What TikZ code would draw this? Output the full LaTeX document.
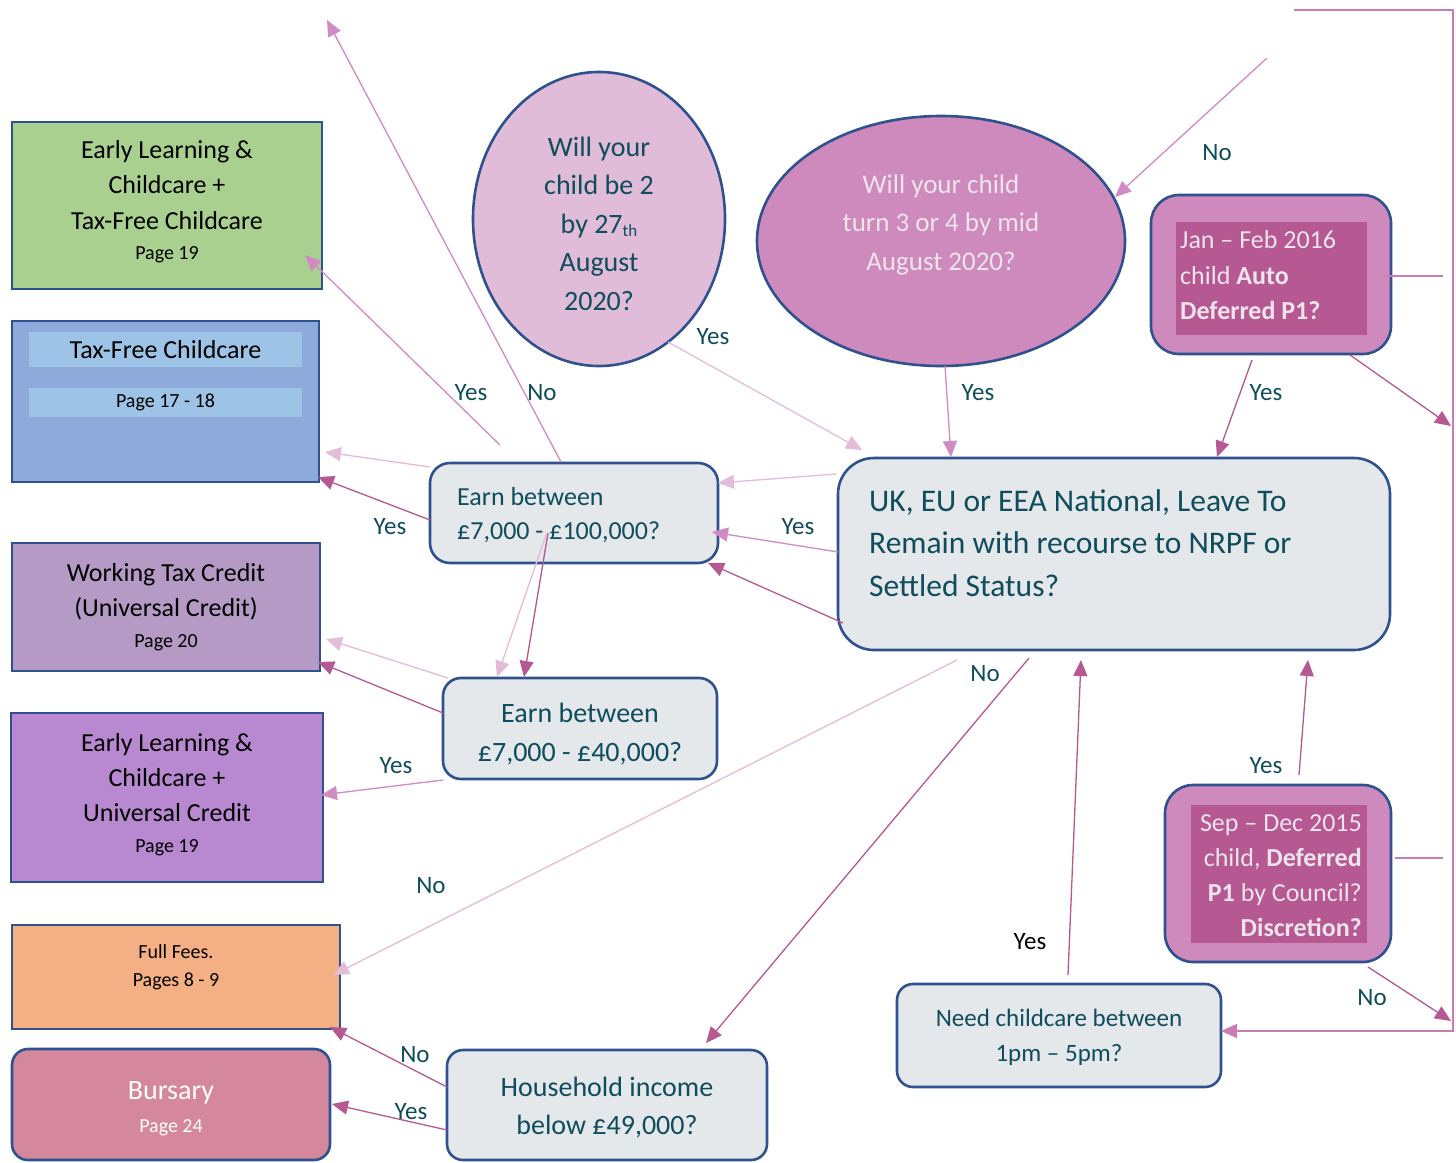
\documentclass[tikz,border=0pt]{standalone}
\usepackage{fontspec}
\setmainfont{Carlito}
\usetikzlibrary{arrows.meta,shapes.geometric}
\definecolor{bdr}{HTML}{2F528F}
\definecolor{tealtx}{HTML}{0F4C5C}
\definecolor{qfill}{HTML}{E4E8EA}
\definecolor{grn}{HTML}{A9D08E}
\definecolor{blu}{HTML}{8EAADB}
\definecolor{strip}{HTML}{9DC3E6}
\definecolor{wtcC}{HTML}{B49AC4}
\definecolor{purp}{HTML}{B889D1}
\definecolor{orng}{HTML}{F4B084}
\definecolor{burs}{HTML}{D5879D}
\definecolor{ellA}{HTML}{E0BCD8}
\definecolor{ellB}{HTML}{CE89BD}
\definecolor{magin}{HTML}{B65891}
\definecolor{paletx}{HTML}{EEE4EC}
\definecolor{lnL}{HTML}{E2BCD8}
\definecolor{lnM}{HTML}{D08BC3}
\definecolor{lnD}{HTML}{B65891}
\definecolor{lnF}{HTML}{C97DB6}
\newcommand\myfs[2]{\fontsize{#1}{#2}\selectfont}
\begin{document}
\begin{tikzpicture}[x=1pt,y=-1pt,
  box/.style={draw=bdr,line width=2.6pt,inner sep=0pt,align=center},
  qbox/.style={box,fill=qfill,text=tealtx,rounded corners=#1},
  qbox/.default=16pt,
  txt/.style={inner sep=0pt},
  conn/.style={line width=1.3pt,-{Triangle[length=16pt,width=14pt]}},
  lbl/.style={text=tealtx,font=\myfs{25}{30},inner sep=0pt}]
\useasboundingbox[fill=white] (0,0) rectangle (1456,1162);

% ---------- outcome boxes (left) ----------
\node[box,fill=grn,minimum width=310pt,minimum height=167pt] (elctfc) at (167,205.5) {};
\node[txt,align=center,font=\myfs{26}{35.5}] (elctfctxt) at (167,201.5)
  {Early Learning \&\\Childcare +\\Tax-Free Childcare\\[-5pt]{\myfs{20}{24}Page 19}};
\node[box,fill=blu,minimum width=307pt,minimum height=161pt] (tfc) at (165.5,401.5) {};
\node[fill=strip,minimum width=273pt,minimum height=35pt,inner sep=0pt,font=\myfs{26}{30}] (tfcname) at (165.5,349.5) {Tax-Free Childcare};
\node[fill=strip,minimum width=273pt,minimum height=29pt,inner sep=0pt,font=\myfs{20}{24}] (tfcpage) at (165.5,402.5) {Page 17 - 18};
\node[box,fill=wtcC,minimum width=308pt,minimum height=128pt,font=\myfs{26}{35}] (wtc) at (166,607)
  {Working Tax Credit\\(Universal Credit)\\[-4pt]{\myfs{20}{24}Page 20}};
\node[box,fill=purp,minimum width=312pt,minimum height=169pt] (elcuc) at (167,797.5) {};
\node[txt,align=center,font=\myfs{26}{35}] (elcuctxt) at (167,794.5)
  {Early Learning \&\\Childcare +\\Universal Credit\\[-4pt]{\myfs{20}{24}Page 19}};
\node[box,fill=orng,minimum width=328pt,minimum height=104pt] (fees) at (176,977) {};
\node[txt,font=\myfs{20}{28},align=center] (feestxt) at (176,967) {Full Fees.\\Pages 8 - 9};
\node[box,fill=burs,rounded corners=16pt,minimum width=318pt,minimum height=111pt] (burs) at (171,1104.5) {};
\node[txt,text=white,align=center,font=\myfs{28}{33}] (burstxt) at (171,1109)
  {Bursary\\{\myfs{20}{24}Page 24}};

% ---------- question boxes ----------
\node[qbox=20pt,minimum width=288pt,minimum height=100pt] (e100) at (574,513) {};
\node[txt,text=tealtx,align=left,anchor=west,font=\myfs{26}{34}] (e100txt) at (457,515)
  {Earn between\\£7,000 - £100,000?};
\node[qbox=18pt,minimum width=274pt,minimum height=101pt] (e40) at (580,728.5) {};
\node[txt,text=tealtx,align=center,font=\myfs{28}{39}] (e40txt) at (580,734)
  {Earn between\\£7,000 - £40,000?};
\node[qbox=36pt,minimum width=552pt,minimum height=192pt] (uk) at (1114,554) {};
\node[txt,text=tealtx,align=left,anchor=west,font=\myfs{31.5}{42.5}] (uktxt) at (869,543)
  {UK, EU or EEA National, Leave To\\Remain with recourse to NRPF or\\Settled Status?};
\node[qbox=16pt,minimum width=320pt,minimum height=110pt] (hh) at (607,1105) {};
\node[txt,text=tealtx,align=center,font=\myfs{28}{38}] (hhtxt) at (607,1108)
  {Household income\\below £49,000?};
\node[qbox=16pt,minimum width=324pt,minimum height=103pt] (need) at (1059,1035.5) {};
\node[txt,text=tealtx,align=center,font=\myfs{25}{35}] (needtxt) at (1059,1037.5)
  {Need childcare between\\1pm – 5pm?};

% ---------- ellipses ----------
\node[draw=bdr,line width=2.6pt,fill=ellA,ellipse,minimum width=252pt,minimum height=294pt,inner sep=0pt] (ell1) at (599,219) {};
\node[txt,text=tealtx,align=center,font=\myfs{28}{38.5}] (ell1txt) at (599,223.5)
  {Will your\\child be 2\\by 27\raisebox{-3pt}{\myfs{17}{17}th}\\August\\2020?};
\node[draw=bdr,line width=2.6pt,fill=ellB,ellipse,minimum width=368pt,minimum height=250pt,inner sep=0pt] (ell2) at (941,241) {};
\node[txt,text=paletx,align=center,font=\myfs{27}{38.5}] (ell2txt) at (941,224.5)
  {Will your child\\turn 3 or 4 by mid\\August 2020?};

% ---------- magenta boxes ----------
\node[draw=bdr,line width=2.6pt,fill=ellB,rounded corners=28pt,minimum width=240pt,minimum height=159pt,inner sep=0pt] (jan) at (1271,274.5) {};
\node[fill=magin,minimum width=191pt,minimum height=113pt,inner sep=0pt] (janin) at (1271.5,278.5) {};
\node[txt,anchor=west,align=left,text=paletx,font=\myfs{26}{35.5}] (jantxt) at (1180,275.5)
  {Jan – Feb 2016\\child \textbf{Auto}\\\textbf{Deferred P1?}};
\node[draw=bdr,line width=2.6pt,fill=ellB,rounded corners=28pt,minimum width=226pt,minimum height=177pt,inner sep=0pt] (sep) at (1278,873.5) {};
\node[fill=magin,minimum width=176pt,minimum height=138pt,inner sep=0pt] (sepin) at (1279,874) {};
\node[txt,anchor=east,align=right,text=paletx,font=\myfs{26}{35}] (septxt) at (1362,876)
  {Sep – Dec 2015\\child, \textbf{Deferred}\\\textbf{P1} by Council?\\\textbf{Discretion?}};

% ---------- connector end points ----------
\coordinate (noTop) at (1267,58);   \coordinate (ell2R) at (1115,197);
\coordinate (frS) at (1294,10);     \coordinate (frA) at (1453,10);
\coordinate (frB) at (1453,1031);   \coordinate (needR) at (1221,1031);
\coordinate (janBR) at (1350,355);  \coordinate (frJ) at (1451,426);
\coordinate (janR) at (1384,276);   \coordinate (janStub) at (1443,276);
\coordinate (sepR) at (1395,858);   \coordinate (sepStub) at (1443,858);
\coordinate (sepB) at (1368,967);   \coordinate (frN) at (1451,1021);
\coordinate (janB) at (1252,360);   \coordinate (ukT2) at (1217,457);
\coordinate (ell2B) at (945,366);   \coordinate (ukT1) at (951,457);
\coordinate (ell1B) at (668,342);   \coordinate (ukTL) at (862,450);
\coordinate (ukL1) at (836,474);    \coordinate (e100R1) at (718,483);
\coordinate (ukL2) at (838,552);    \coordinate (e100R2) at (712,532);
\coordinate (ukL3) at (843,623);    \coordinate (e100R3) at (708,563);
\coordinate (ukB1) at (957,660);    \coordinate (feesR) at (333,975);
\coordinate (ukB2) at (1029,658);   \coordinate (hhT) at (706,1043);
\coordinate (needT) at (1068,975);  \coordinate (ukB3) at (1081,660);
\coordinate (sepT) at (1299,775);   \coordinate (ukB4) at (1308,660);
\coordinate (e100a) at (546,535);   \coordinate (e40T1) at (497,677);
\coordinate (e100b) at (548,533);   \coordinate (e40T2) at (524,677);
\coordinate (e100L2) at (430,520);  \coordinate (tfcR2) at (318,477);
\coordinate (e100L1) at (430,467);  \coordinate (tfcR1) at (325,452);
\coordinate (yesFree) at (500,445); \coordinate (elctfcR) at (305,255);
\coordinate (e100T) at (561,462);   \coordinate (noUp) at (327,20);
\coordinate (e40L1) at (448,678);   \coordinate (wtcR1) at (326,639);
\coordinate (e40L2) at (443,713);   \coordinate (wtcR2) at (318,662);
\coordinate (e40L3) at (443,780);   \coordinate (elcucR) at (321,795);
\coordinate (hhL1) at (447,1087);   \coordinate (feesR2) at (330,1027);
\coordinate (hhL2) at (447,1130);   \coordinate (bursR) at (332,1104);

% ---------- connectors ----------
\draw[conn,lnM] (noTop) -- (ell2R);
\draw[conn,lnF] (frS) -- (frA) -- (frB) -- (needR);
\draw[conn,lnD] (janBR) -- (frJ);
\draw[line width=1.3pt,lnF] (janR) -- (janStub);
\draw[line width=1.3pt,lnF] (sepR) -- (sepStub);
\draw[conn,lnD] (sepB) -- (frN);
\draw[conn,lnD] (janB) -- (ukT2);
\draw[conn,lnM] (ell2B) -- (ukT1);
\draw[conn,lnL] (ell1B) -- (ukTL);
\draw[conn,lnL] (ukL1) -- (e100R1);
\draw[conn,lnM] (ukL2) -- (e100R2);
\draw[conn,lnD] (ukL3) -- (e100R3);
\draw[conn,lnL] (ukB1) -- (feesR);
\draw[conn,lnD] (ukB2) -- (hhT);
\draw[conn,lnD] (needT) -- (ukB3);
\draw[conn,lnD] (sepT) -- (ukB4);
\draw[conn,lnL] (e100a) -- (e40T1);
\draw[conn,lnD] (e100b) -- (e40T2);
\draw[conn,lnD] (e100L2) -- (tfcR2);
\draw[conn,lnL] (e100L1) -- (tfcR1);
\draw[conn,lnM] (yesFree) -- (elctfcR);
\draw[conn,lnM] (e100T) -- (noUp);
\draw[conn,lnL] (e40L1) -- (wtcR1);
\draw[conn,lnD] (e40L2) -- (wtcR2);
\draw[conn,lnM] (e40L3) -- (elcucR);
\draw[conn,lnD] (hhL1) -- (feesR2);
\draw[conn,lnD] (hhL2) -- (bursR);

% ---------- labels ----------
\node[lbl] (l1) at (1217,153) {No};
\node[lbl] (l2) at (1266,393) {Yes};
\node[lbl] (l3) at (978,393) {Yes};
\node[lbl] (l4) at (713,337) {Yes};
\node[lbl] (l5) at (471,393) {Yes};
\node[lbl] (l6) at (542,393) {No};
\node[lbl] (l7) at (390,527) {Yes};
\node[lbl] (l8) at (798,527) {Yes};
\node[lbl] (l9) at (985,674) {No};
\node[lbl] (l10) at (396,766) {Yes};
\node[lbl] (l11) at (431,886) {No};
\node[lbl] (l12) at (1266,766) {Yes};
\node[lbl,text=black] (l13) at (1030,942) {Yes};
\node[lbl] (l14) at (1372,998) {No};
\node[lbl] (l15) at (415,1055) {No};
\node[lbl] (l16) at (411,1112) {Yes};
\end{tikzpicture}
\end{document}
